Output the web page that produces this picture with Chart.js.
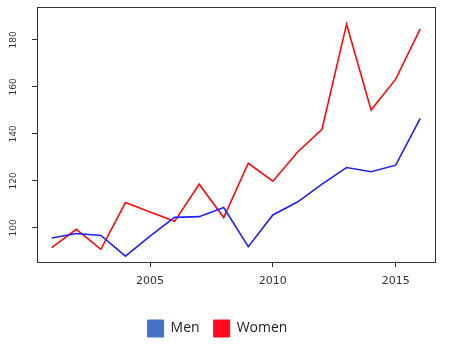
<!DOCTYPE html>
<html>
<head>
<meta charset="utf-8">
<script src="https://cdn.jsdelivr.net/npm/chart.js@4"></script>
<style>
  html, body { margin: 0; padding: 0; background: #fff; }
  #wrap { width: 452px; height: 352px; }
</style>
</head>
<body>
<div id="wrap"><canvas id="chart" width="452" height="352"></canvas></div>
<script>
const years = [2001, 2002, 2003, 2004, 2005, 2006, 2007, 2008, 2009, 2010, 2011, 2012, 2013, 2014, 2015, 2016];
const menValues = [95.7, 97.6, 96.8, 88, 96.5, 104.5, 104.8, 108.7, 92, 105.5, 111, 118.6, 125.7, 123.9, 126.7, 146.6];
const womenValues = [91.6, 99.4, 90.9, 110.8, 106.8, 102.8, 118.6, 104.4, 127.5, 119.9, 132.2, 142, 186.7, 150.2, 163.3, 184.7];
const xTickYears = [2005, 2010, 2015];
const yTickValues = [100, 120, 140, 160, 180];

const axisColor = '#333';

// box around the plot area, like R's box()
const framePlugin = {
    id: 'frame',
    afterDraw(chart) {
        const a = chart.chartArea;
        const ctx = chart.ctx;
        ctx.save();
        ctx.strokeStyle = axisColor;
        ctx.lineWidth = 1;
        ctx.strokeRect(Math.round(a.left) + 0.5, Math.round(a.top) + 0.5,
            Math.round(a.right - a.left), Math.round(a.bottom - a.top));
        ctx.restore();
    }
};

const ctx = document.getElementById('chart').getContext('2d');
const chart = new Chart(ctx, {
    type: 'line',
    data: {
        datasets: [
            {
                label: 'Men',
                data: years.map((y, i) => ({ x: y, y: menValues[i] })),
                borderColor: '#2020ff',
                backgroundColor: '#4472C4',
                borderWidth: 1.6,
                pointRadius: 0,
                tension: 0
            },
            {
                label: 'Women',
                data: years.map((y, i) => ({ x: y, y: womenValues[i] })),
                borderColor: '#ff0a0a',
                backgroundColor: '#ff0a1e',
                borderWidth: 1.6,
                pointRadius: 0,
                tension: 0
            }
        ]
    },
    options: {
        responsive: false,
        animation: false,
        layout: { padding: { top: 7, right: 17, left: 0, bottom: 5 } },
        plugins: {
            tooltip: { enabled: false },
            legend: {
                position: 'bottom',
                labels: {
                    boxWidth: 16,
                    boxHeight: 17,
                    padding: 14,
                    color: '#222',
                    font: { family: 'Open Sans', size: 14 },
                    generateLabels(ch) {
                        return ch.data.datasets.map((ds, i) => ({
                            text: ds.label,
                            fillStyle: ds.backgroundColor,
                            strokeStyle: ds.backgroundColor,
                            lineWidth: 1,
                            fontColor: '#222',
                            datasetIndex: i
                        }));
                    }
                }
            }
        },
        scales: {
            x: {
                type: 'linear',
                min: 2000.4,
                max: 2016.6,
                afterBuildTicks(scale) {
                    scale.ticks = xTickYears.map(v => ({ value: v }));
                },
                afterFit(scale) { scale.height = 44; },
                grid: { display: true, drawOnChartArea: false, drawTicks: true, tickLength: 5, color: axisColor },
                border: { display: true, color: axisColor },
                ticks: {
                    color: '#333',
                    padding: 8,
                    maxRotation: 0,
                    font: { family: 'DejaVu Sans', size: 11 },
                    callback: v => String(v)
                }
            },
            y: {
                min: 85.5,
                max: 194,
                afterBuildTicks(scale) {
                    scale.ticks = yTickValues.map(v => ({ value: v }));
                },
                afterFit(scale) {
                    scale.width = 37;
                    scale.paddingTop = 0;
                    scale.paddingBottom = 0;
                },
                grid: { display: true, drawOnChartArea: false, drawTicks: true, tickLength: 5, color: axisColor },
                border: { display: true, color: axisColor },
                ticks: {
                    color: '#333',
                    padding: 10,
                    minRotation: 90,
                    maxRotation: 90,
                    crossAlign: 'center',
                    font: { family: 'DejaVu Sans', size: 9 }
                }
            }
        }
    },
    plugins: [framePlugin]
});
</script>
</body>
</html>
